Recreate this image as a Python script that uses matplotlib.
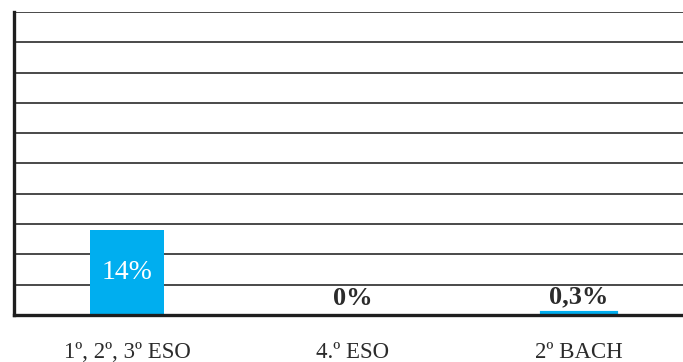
import matplotlib
matplotlib.use("Agg")
import matplotlib.pyplot as plt

# Datos
categorias = ["1º, 2º, 3º ESO", "4.º ESO", "2º BACH"]
valores = [14, 0, 0.3]
etiquetas = ["14%", "0%", "0,3%"]

AZUL = "#00aeef"
TEXTO = "#2b2b2b"

plt.rcParams["font.family"] = ["Liberation Serif", "DejaVu Serif"]

fig = plt.figure(figsize=(6.83, 3.62), dpi=100)
ax = fig.add_axes([14 / 683, 47 / 362, 669 / 683, 303 / 362])

x = range(len(categorias))
# las barras muy pequeñas se engrosan con el borde para que se vean
bordes = [3 if 0 < v < 1 else 0 for v in valores]
bars = ax.bar(x, valores, width=0.33, color=AZUL, edgecolor=AZUL,
              linewidth=bordes, zorder=3)

ax.set_xlim(-0.5, 2.46)
ax.set_ylim(0, 50)
ax.set_yticks(range(0, 51, 5))
ax.yaxis.grid(True, color="#3a3a3a", linewidth=1.3, zorder=0)
ax.tick_params(axis="y", left=False, labelleft=False)
ax.tick_params(axis="x", bottom=False, pad=16, labelsize=16.5, labelcolor=TEXTO)
ax.set_xticks(list(x))
ax.set_xticklabels(categorias)

for s in ["top", "right"]:
    ax.spines[s].set_visible(False)
for s in ["left", "bottom"]:
    ax.spines[s].set_linewidth(2.4)
    ax.spines[s].set_color("#1e1e1e")
    ax.spines[s].set_zorder(4)

# Etiquetas de valor
for b, v, t in zip(bars, valores, etiquetas):
    if v > 5:
        ax.text(b.get_x() + b.get_width() / 2, v / 2, t, ha="center",
                va="center", color="white", fontsize=20, zorder=5)
    else:
        ax.text(b.get_x() + b.get_width() / 2, v + 0.8, t, ha="center",
                va="bottom", color=TEXTO, fontsize=19, fontweight="bold",
                zorder=5)

fig.savefig("out.png", dpi=100)
